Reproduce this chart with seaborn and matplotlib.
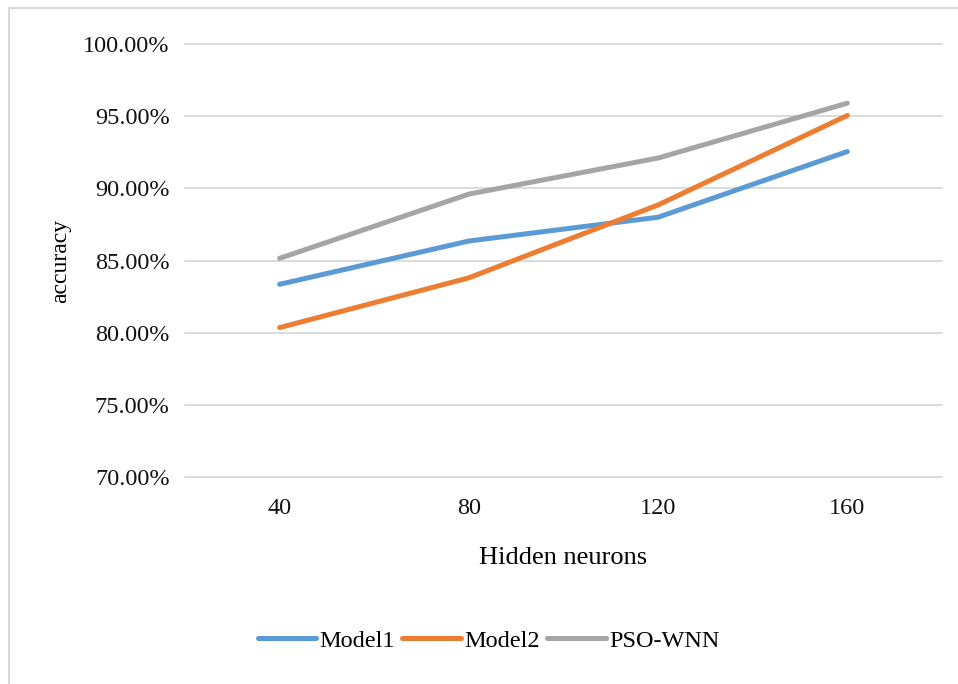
import matplotlib
matplotlib.use("Agg")
import matplotlib.pyplot as plt
import seaborn as sns
import pandas as pd
from matplotlib.ticker import FuncFormatter, MultipleLocator
from matplotlib.lines import Line2D

# ---- data ----
hidden_neurons = ["40", "80", "120", "160"]
model1 = [83.35, 86.35, 88.00, 92.55]
model2 = [80.35, 83.80, 88.85, 95.05]
pso_wnn = [85.15, 89.60, 92.10, 95.90]
series_names = ["Model1", "Model2", "PSO-WNN"]
colors = ["#5B9BD5", "#ED7D31", "#A5A5A5"]
y_ticks_step = 5

rows = []
for name, vals in zip(series_names, [model1, model2, pso_wnn]):
    for x, v in zip(hidden_neurons, vals):
        rows.append({"Hidden neurons": x, "accuracy": v, "series": name})
df = pd.DataFrame(rows)

sns.set_theme(style="white")
plt.rcParams['font.family'] = ['Liberation Serif', 'DejaVu Serif']

fig = plt.figure(figsize=(9.58, 6.84), dpi=100)
ax = fig.add_axes([185 / 958, 1 - 477 / 684, 757 / 958, 433 / 684])

sns.lineplot(data=df, x="Hidden neurons", y="accuracy", hue="series",
             palette=colors, linewidth=3.6, ax=ax, sort=False,
             solid_capstyle="round")

ax.set_xlim(-0.5, 3.5)
ax.set_ylim(70, 100)
ax.yaxis.set_major_locator(MultipleLocator(y_ticks_step))
ax.yaxis.set_major_formatter(FuncFormatter(lambda v, p: f"{v:.2f}%"))
ax.grid(axis="y", color="#D9D9D9", lw=1.3)
ax.grid(axis="x", visible=False)
for gl in ax.get_ygridlines():
    gl.set_clip_on(False)
ax.set_axisbelow(True)
for s in ax.spines.values():
    s.set_visible(False)
ax.tick_params(length=0, labelsize=17.5, colors="#111111")
ax.tick_params(axis="x", pad=15)
ax.tick_params(axis="y", pad=11)

ax.set_xlabel("Hidden neurons", fontsize=19, color="#000000")
ax.set_ylabel("accuracy", fontsize=17, color="#000000")
ax.xaxis.set_label_coords(0.5, -0.162)
ax.yaxis.set_label_coords(-0.151, 0.5)

handles, labels = ax.get_legend_handles_labels()
if ax.get_legend() is not None:
    ax.get_legend().remove()
leg = fig.legend(handles, labels, loc="center", bbox_to_anchor=(0.51, 0.063),
                 ncol=3, frameon=False, fontsize=17.5, handlelength=2.4,
                 handletextpad=0.15, columnspacing=0.3)
for t in leg.get_texts():
    t.set_color("#000000")
for h in leg.get_lines():
    h.set_linewidth(3.6)
    h.set_solid_capstyle("round")

# chart border (top and left visible)
fig.add_artist(Line2D([9 / 958, 1.0], [1 - 8 / 684] * 2, transform=fig.transFigure,
                      color="#D9D9D9", lw=1.5))
fig.add_artist(Line2D([9 / 958] * 2, [0.0, 1 - 8 / 684], transform=fig.transFigure,
                      color="#D9D9D9", lw=1.5))

fig.savefig("out.png", dpi=100)
